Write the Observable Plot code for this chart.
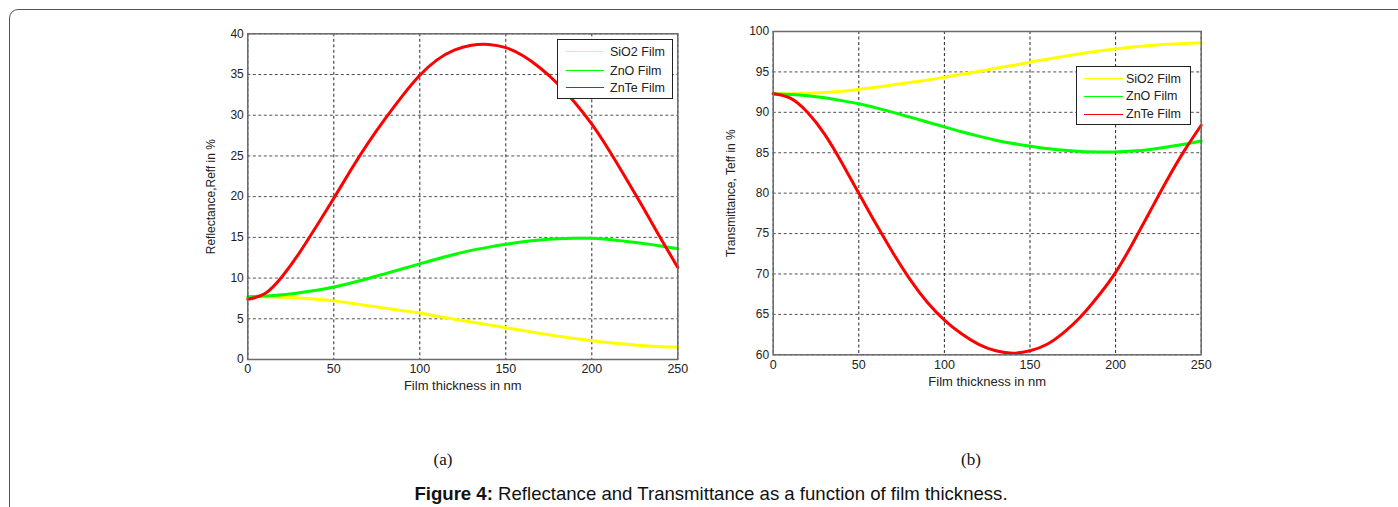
<!DOCTYPE html>
<html>
<head>
<meta charset="utf-8">
<script src="https://cdn.jsdelivr.net/npm/d3@7"></script>
<script src="https://cdn.jsdelivr.net/npm/@observablehq/plot@0.6"></script>
<style>
  html, body { margin: 0; padding: 0; background: #fff; }
  #page { position: relative; width: 1398px; height: 507px; overflow: hidden; background: #fff; font-family: "Liberation Sans", Arial, sans-serif; }
  #border { position: absolute; left: 9px; top: 9px; width: 1420px; height: 540px; border: 1.5px solid #555; border-top-left-radius: 9px; box-sizing: border-box; }
  .panel { position: absolute; }
  .panel g[aria-label="x-axis tick label"] { font-size: 12.5px; }
  .panel g[aria-label="y-axis tick label"] { font-size: 12px; }
  .panel g[aria-label="x-axis label"] { font-size: 13px; }
  .panel g[aria-label="y-axis label"] { font-size: 12px; }
  .legend { position: absolute; background: #fff; border: 1px solid #222; font-family: "Liberation Sans", Arial, sans-serif; font-size: 12.5px; color: #222; box-sizing: border-box; }
  .legend .row { position: absolute; left: 0; height: 14px; line-height: 14px; white-space: nowrap; }
  .legend .sw { position: absolute; top: 7px; }
  .legend .lb { position: absolute; top: 0; }
  .sub { position: absolute; font-family: "Liberation Serif", "Times New Roman", serif; font-size: 17px; color: #111; transform: translate(-50%, -50%); }
  #caption { position: absolute; left: 12px; width: 1398px; top: 483px; text-align: center; font-family: "Liberation Sans", Arial, sans-serif; font-size: 18.6px; color: #111; }
</style>
</head>
<body>
<div id="page">
  <div id="border"></div>
  <div id="left" class="panel" style="left:190px; top:20px;"></div>
  <div id="right" class="panel" style="left:720px; top:20px;"></div>
  <div class="sub" style="left:443px; top:460px;">(a)</div>
  <div class="sub" style="left:971px; top:460px;">(b)</div>
  <div id="caption"><b>Figure 4:</b> Reflectance and Transmittance as a function of film thickness.</div>
</div>
<script>
// ---- data ----
const thickness = [0, 10, 20, 30, 40, 50, 60, 70, 80, 90, 100, 110, 120, 130, 140, 150, 160, 170, 180, 190, 200, 210, 220, 230, 240, 250];

const sio2Reflectance = [7.7, 7.7, 7.65, 7.55, 7.4, 7.2, 6.9, 6.6, 6.3, 6.0, 5.7, 5.3, 4.95, 4.6, 4.25, 3.9, 3.55, 3.2, 2.87, 2.57, 2.3, 2.06, 1.86, 1.7, 1.58, 1.52];
const znoReflectance  = [7.7, 7.8, 7.95, 8.2, 8.5, 8.9, 9.4, 9.95, 10.55, 11.15, 11.75, 12.35, 12.9, 13.4, 13.8, 14.15, 14.45, 14.68, 14.83, 14.9, 14.88, 14.75, 14.5, 14.25, 13.95, 13.6];
const znteReflectance = [7.4, 8.1, 10.2, 13.1, 16.4, 19.8, 23.3, 26.6, 29.6, 32.4, 34.9, 36.8, 38.0, 38.6, 38.7, 38.3, 37.3, 35.8, 33.9, 31.6, 28.9, 25.7, 22.2, 18.6, 14.9, 11.3];

const sio2Transmittance = [92.3, 92.3, 92.35, 92.45, 92.6, 92.85, 93.1, 93.4, 93.7, 94.0, 94.35, 94.7, 95.05, 95.45, 95.8, 96.2, 96.57, 96.93, 97.27, 97.58, 97.85, 98.08, 98.27, 98.42, 98.53, 98.6];
const znoTransmittance  = [92.3, 92.2, 92.05, 91.8, 91.45, 91.05, 90.55, 90.0, 89.4, 88.8, 88.2, 87.6, 87.05, 86.55, 86.15, 85.82, 85.52, 85.3, 85.15, 85.1, 85.1, 85.2, 85.4, 85.7, 86.05, 86.45];
const znteTransmittance = [92.3, 91.75, 90.0, 87.3, 83.8, 80.0, 76.2, 72.6, 69.3, 66.5, 64.3, 62.6, 61.3, 60.5, 60.2, 60.5, 61.3, 62.8, 64.8, 67.3, 70.2, 73.8, 77.7, 81.6, 85.2, 88.4];

const seriesNames = ["SiO2 Film", "ZnO Film", "ZnTe Film"];
const seriesColors = ["#ffff00", "#00ff00", "#ff0000"];

const xTicks = [0, 50, 100, 150, 200, 250];
const reflTicks = [0, 5, 10, 15, 20, 25, 30, 35, 40];
const transTicks = [60, 65, 70, 75, 80, 85, 90, 95, 100];

const xLabel = "Film thickness in nm";
const reflLabel = "Reflectance,Reff in %";
const transLabel = "Transmittance, Teff in %";

// ---- build tables ----
function table(arrays) {
  const rows = [];
  arrays.forEach((arr, k) => {
    thickness.forEach((d, i) => rows.push({d, v: arr[i], s: seriesNames[k]}));
  });
  return rows;
}
const reflRows = table([sio2Reflectance, znoReflectance, znteReflectance]);
const transRows = table([sio2Transmittance, znoTransmittance, znteTransmittance]);

function makePanel({rows, yDomain, yTicks, yLabel, m, yLabelOffset, xLabelOffset}) {
  return Plot.plot({
    width: 500,
    height: 380,
    marginLeft: m[0], marginTop: m[1], marginRight: m[2], marginBottom: m[3],
    style: {fontFamily: "Liberation Sans, Arial, sans-serif", fontSize: "12px", color: "#222", background: "transparent"},
    x: {domain: [0, 250]},
    y: {domain: yDomain},
    color: {domain: seriesNames, range: seriesColors},
    marks: [
      Plot.gridX(xTicks, {stroke: "#111", strokeOpacity: 0.9, strokeDasharray: "3,2.5", strokeWidth: 1}),
      Plot.gridY(yTicks, {stroke: "#333", strokeOpacity: 0.85, strokeDasharray: "3,2.5", strokeWidth: 1}),
      Plot.line(rows, {x: "d", y: "v", z: "s", stroke: "s", strokeWidth: 3, curve: "natural"}),
      Plot.frame({stroke: "#6a6a6a", strokeWidth: 1.5}),
      Plot.axisX(xTicks, {tickSize: 0, tickPadding: 5, label: xLabel, labelAnchor: "center", labelArrow: "none", labelOffset: xLabelOffset}),
      Plot.axisY(yTicks, {tickSize: 0, tickPadding: 4, label: yLabel, labelAnchor: "center", labelArrow: "none", labelOffset: yLabelOffset})
    ]
  });
}

document.getElementById("left").appendChild(makePanel({
  rows: reflRows, yDomain: [0, 40], yTicks: reflTicks, yLabel: reflLabel,
  m: [57.3, 13.3, 12.7, 41], yLabelOffset: 41, xLabelOffset: 30
}));
document.getElementById("right").appendChild(makePanel({
  rows: transRows, yDomain: [60, 100], yTicks: transTicks, yLabel: transLabel,
  m: [52.7, 11, 19.3, 45.7], yLabelOffset: 47, xLabelOffset: 31
}));

// ---- legends (HTML) ----
function legend({left, top, width, height, lineX1, lineX2, textX, rowsY, lineWidth}) {
  const box = document.createElement("div");
  box.className = "legend";
  Object.assign(box.style, {left: left + "px", top: top + "px", width: width + "px", height: height + "px"});
  seriesNames.forEach((name, i) => {
    const row = document.createElement("div");
    row.className = "row";
    row.style.top = (rowsY[i] - 7) + "px";
    const sw = document.createElement("div");
    sw.className = "sw";
    Object.assign(sw.style, {left: lineX1 + "px", width: (lineX2 - lineX1) + "px", borderTop: lineWidth + "px solid " + seriesColors[i], marginTop: (-lineWidth / 2) + "px"});
    const lb = document.createElement("div");
    lb.className = "lb";
    lb.style.left = textX + "px";
    lb.textContent = name;
    row.appendChild(sw); row.appendChild(lb);
    box.appendChild(row);
  });
  document.getElementById("page").appendChild(box);
}
legend({left: 557, top: 39, width: 116, height: 60, lineX1: 8, lineX2: 46, textX: 52, rowsY: [12, 30.5, 48], lineWidth: 1.5});
legend({left: 1076, top: 66, width: 115, height: 59, lineX1: 7, lineX2: 46, textX: 49, rowsY: [11.5, 29, 47], lineWidth: 1});
</script>
</body>
</html>
